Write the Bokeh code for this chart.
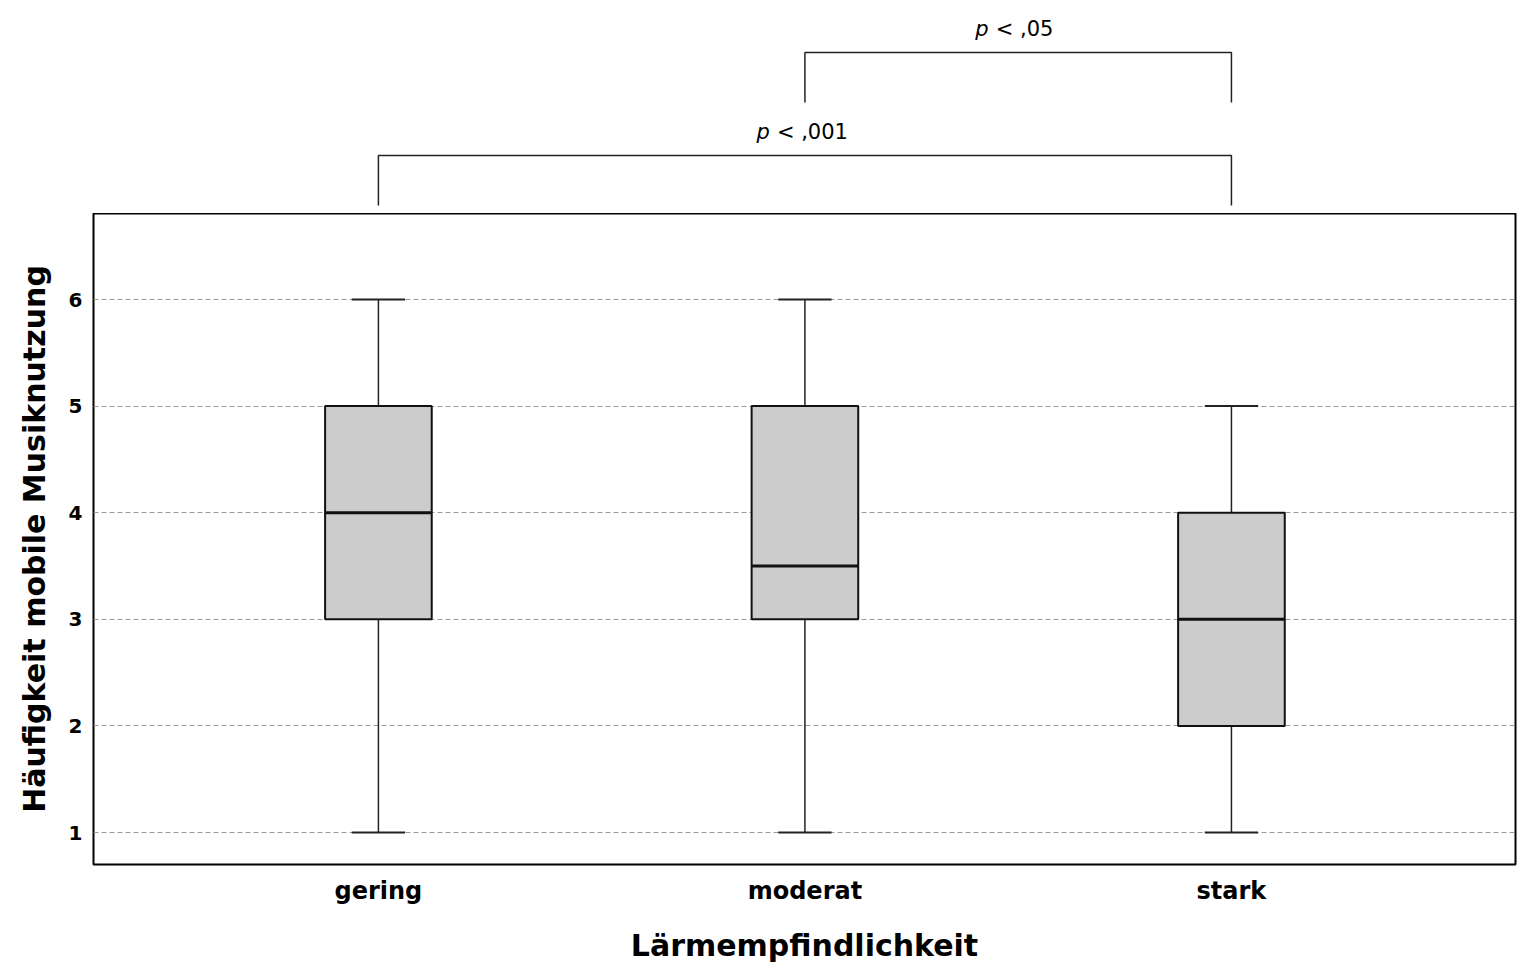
from bokeh.plotting import figure
from bokeh.layouts import column
from bokeh.models import Range1d, FixedTicker
from bokeh.core.properties import value
from bokeh.embed import file_html
from bokeh.resources import INLINE

# ---- data ----
categories = ["gering", "moderat", "stark"]
whisker_low = [1, 1, 1]
q1 = [3, 3, 2]
median = [4, 3.5, 3]
q3 = [5, 5, 4]
whisker_high = [6, 6, 5]
y_ticks = [1, 2, 3, 4, 5, 6]
comparison_pairs = [(0, 2), (1, 2)]
comparison_labels = ["< ,001", "< ,05"]
x_title = "Lärmempfindlichkeit"
y_title = "Häufigkeit mobile Musiknutzung"

xs = [i + 1 for i in range(len(categories))]
BOX_W = 0.25
CAP_W = 0.125

W = 1527
TOP_H = 213
MAIN_H = 752
LEFT = 93
RIGHT = 12

x_range = Range1d(0.332, 3.666)

# ---- main plot ----
p = figure(width=W, height=MAIN_H, x_range=x_range, y_range=Range1d(0.70, 6.807),
           output_backend="svg", toolbar_location=None,
           min_border_left=LEFT, min_border_right=RIGHT,
           min_border_top=0, min_border_bottom=90)
p.outline_line_color = "black"
p.outline_line_width = 2
p.background_fill_color = "white"
p.border_fill_color = "white"

p.xgrid.visible = False
p.ygrid.ticker = FixedTicker(ticks=y_ticks)
p.ygrid.grid_line_color = "#9a9a9a"
p.ygrid.grid_line_dash = "5 3"
p.ygrid.grid_line_width = 1

for ax in (p.xaxis[0], p.yaxis[0]):
    ax.axis_line_color = None
    ax.major_tick_line_color = None
    ax.minor_tick_line_color = None
    ax.major_tick_out = 0
    ax.major_tick_in = 0
    ax.major_label_text_font = "DejaVu Sans"
    ax.major_label_text_font_style = "bold"
    ax.major_label_text_color = "black"
    ax.axis_label_text_font = "DejaVu Sans"
    ax.axis_label_text_font_style = "bold"
    ax.axis_label_text_font_size = "30px"
    ax.axis_label_text_color = "black"

p.yaxis.ticker = FixedTicker(ticks=y_ticks)
p.yaxis.major_label_text_font_size = "20px"
p.yaxis.major_label_standoff = 11
p.yaxis.axis_label = y_title
p.yaxis.axis_label_standoff = 14

p.xaxis.ticker = FixedTicker(ticks=xs)
p.xaxis.major_label_overrides = {x: c for x, c in zip(xs, categories)}
p.xaxis.major_label_text_font_size = "24px"
p.xaxis.major_label_standoff = 12
p.xaxis.axis_label = x_title
p.xaxis.axis_label_standoff = 20

# whiskers
p.segment(x0=xs, y0=q3, x1=xs, y1=whisker_high, line_color="#222222", line_width=1.5)
p.segment(x0=xs, y0=whisker_low, x1=xs, y1=q1, line_color="#222222", line_width=1.5)
# caps
p.segment(x0=[x - CAP_W / 2 for x in xs], y0=whisker_high,
          x1=[x + CAP_W / 2 for x in xs], y1=whisker_high, line_color="#222222", line_width=2)
p.segment(x0=[x - CAP_W / 2 for x in xs], y0=whisker_low,
          x1=[x + CAP_W / 2 for x in xs], y1=whisker_low, line_color="#222222", line_width=2)
# boxes
p.vbar(x=xs, bottom=q1, top=q3, width=BOX_W, fill_color="#cccccc",
       line_color="#111111", line_width=2)
# medians
p.segment(x0=[x - BOX_W / 2 for x in xs], y0=median,
          x1=[x + BOX_W / 2 for x in xs], y1=median, line_color="#111111", line_width=3)

# ---- significance brackets ----
t = figure(width=W, height=TOP_H, x_range=x_range, y_range=Range1d(0, TOP_H),
           output_backend="svg", toolbar_location=None,
           x_axis_location=None, y_axis_location=None,
           min_border_left=LEFT, min_border_right=RIGHT,
           min_border_top=0, min_border_bottom=0)
t.outline_line_color = None
t.grid.visible = False
t.border_fill_color = "white"

BASE = 58
STEP = 103
DROP = 50
for lvl, ((a, b), lab) in enumerate(zip(comparison_pairs, comparison_labels)):
    yl = BASE + lvl * STEP
    xa, xb = xs[a], xs[b]
    t.line(x=[xa, xa, xb, xb], y=[yl - DROP, yl, yl, yl - DROP],
           line_color="#222222", line_width=1.5)
    mid = (xa + xb) / 2
    rest_w = 11 * (len(lab) + 1)
    split = -3 - (13 + rest_w) / 2 + 13
    t.text(x=[mid], y=[yl + 24], text=["p"], x_offset=split,
           text_align="right", text_baseline="middle",
           text_font=value("DejaVu Sans"), text_font_style="italic",
           text_font_size="21px", text_color="black")
    t.text(x=[mid], y=[yl + 24], text=[lab], x_offset=split + 7,
           text_align="left", text_baseline="middle",
           text_font=value("DejaVu Sans"),
           text_font_size="21px", text_color="black")

layout = column(t, p, spacing=0)
open("out.html", "w").write(file_html(layout, INLINE))
